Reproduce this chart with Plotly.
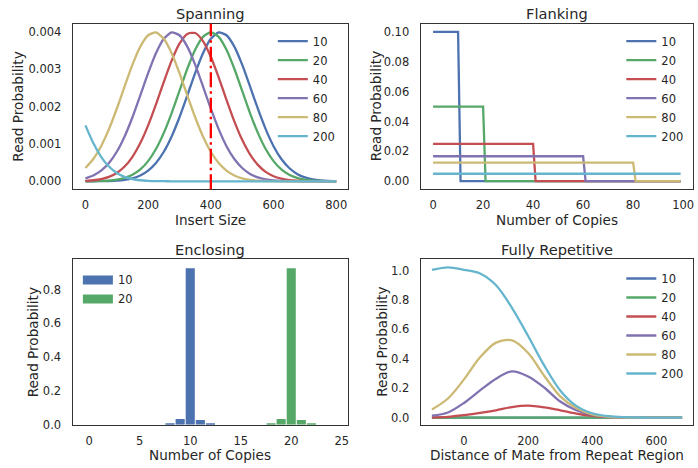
import plotly.graph_objects as go

# ---------------- data ----------------
copies = ["10", "20", "40", "60", "80", "200"]
colors = ["#4C72B0", "#55A868", "#C44E52", "#8172B2", "#CCB974", "#64B5CD"]

# Spanning: read probability vs insert size (every 25 bp)
span_x = list(range(0, 801, 25))
span_10 = [0.0000004, 0.0000011, 0.0000029, 0.0000074, 0.000017, 0.000038, 0.000079, 0.000154,
           0.000283, 0.000488, 0.00079, 0.0012, 0.001714, 0.0023, 0.002897, 0.00343, 0.003815,
           0.003985, 0.00391, 0.003606, 0.003123, 0.002541, 0.001942, 0.001395, 0.00094, 0.000596,
           0.000355, 0.000198, 0.000104, 0.000052, 0.000024, 0.00001, 0.0000042]
span_20 = [0.0000013, 0.0000035, 0.0000088, 0.00002, 0.000044, 0.000091, 0.000175, 0.000318,
           0.00054, 0.000863, 0.001296, 0.001827, 0.00242, 0.003012, 0.003521, 0.003867, 0.00399,
           0.003867, 0.003521, 0.003012, 0.00242, 0.001827, 0.001296, 0.000863, 0.00054, 0.000318,
           0.000175, 0.000091, 0.000044, 0.00002, 0.0000088, 0.0000035, 0.0000013]
span_40 = [0.000012, 0.000028, 0.00006, 0.000119, 0.000224, 0.000395, 0.000656, 0.001023,
           0.001497, 0.00206, 0.002661, 0.00323, 0.003683, 0.003945, 0.00397, 0.003753, 0.003333,
           0.00278, 0.002179, 0.001604, 0.001109, 0.000721, 0.00044, 0.000252, 0.000136, 0.000069,
           0.000033, 0.000014, 0.0000061, 0.0000024, 0.0000009, 0.0000003, 0.0000001]
span_60 = [0.000079, 0.000154, 0.000283, 0.000488, 0.00079, 0.0012, 0.001714, 0.0023,
           0.002897, 0.00343, 0.003815, 0.003985, 0.00391, 0.003606, 0.003123, 0.002541, 0.001942,
           0.001395, 0.00094, 0.000596, 0.000355, 0.000198, 0.000104, 0.000052, 0.000024, 0.00001,
           0.0000042, 0.0000016, 0.0000006, 0.0000002, 0.0, 0.0, 0.0]
span_80 = [0.000355, 0.000596, 0.00094, 0.001395, 0.001942, 0.002541, 0.003123, 0.003606,
           0.00391, 0.003985, 0.003815, 0.00343, 0.002897, 0.0023, 0.001714, 0.0012, 0.00079,
           0.000488, 0.000283, 0.000154, 0.000079, 0.000038, 0.000017, 0.0000074, 0.0000029,
           0.0000011, 0.0000004, 0.0, 0.0, 0.0, 0.0, 0.0, 0.0]
span_200 = [0.001497, 0.001023, 0.000656, 0.000395, 0.000224, 0.000119, 0.00006, 0.000028,
            0.000012, 0.0000051, 0.000002, 0.0, 0.0, 0.0, 0.0, 0.0, 0.0, 0.0, 0.0, 0.0, 0.0, 0.0,
            0.0, 0.0, 0.0, 0.0, 0.0, 0.0, 0.0, 0.0, 0.0, 0.0, 0.0]
span_cutoff = 400

# Flanking: step functions (level up to the last copy, then zero)
flank_last_copy = [10, 20, 40, 60, 80, 99]
flank_level = [0.1, 0.05, 0.025, 0.0167, 0.0125, 0.005]
flank_max_copy = 99

# Enclosing: bar chart
enc_x = list(range(0, 25))
enc_10 = [0, 0, 0, 0, 0, 0, 0, 0, 0.005, 0.034, 0.926, 0.029, 0.005, 0, 0, 0, 0, 0, 0, 0, 0, 0, 0, 0, 0]
enc_20 = [0, 0, 0, 0, 0, 0, 0, 0, 0, 0, 0, 0, 0, 0, 0, 0, 0, 0, 0.005, 0.034, 0.926, 0.029, 0.005, 0, 0]

# Fully repetitive
fr_x = [-100, -50, 0, 50, 100, 150, 200, 250, 300, 350, 400, 450, 500, 550, 600, 650, 680]
fr_10 = [0.0] * 17
fr_20 = [0.0] * 17
fr_40 = [0.0, 0.005, 0.017, 0.032, 0.05, 0.072, 0.081, 0.07, 0.05, 0.028, 0.012, 0.004, 0.001, 0, 0, 0, 0]
fr_60 = [0.013, 0.035, 0.10, 0.185, 0.265, 0.315, 0.28, 0.205, 0.11, 0.05, 0.018, 0.005, 0.001, 0, 0, 0, 0]
fr_80 = [0.055, 0.13, 0.26, 0.41, 0.51, 0.525, 0.44, 0.285, 0.145, 0.065, 0.022, 0.006, 0.001, 0, 0, 0, 0]
fr_200 = [1.005, 1.022, 1.005, 0.98, 0.90, 0.745, 0.555, 0.355, 0.185, 0.08, 0.03, 0.01, 0.003, 0.001, 0, 0, 0]

# ---------------- figure ----------------
W, H = 698, 468
FONT = "DejaVu Sans"
TXT = "#262626"
LW = 2.3

fig = go.Figure()

span_series = [span_10, span_20, span_40, span_60, span_80, span_200]
for name, ys, c in zip(copies, span_series, colors):
    fig.add_trace(go.Scatter(x=span_x, y=ys, mode="lines", name=name,
                             line=dict(color=c, width=LW, shape="spline", smoothing=0.6),
                             xaxis="x", yaxis="y", legend="legend"))

for name, last, lev, c in zip(copies, flank_last_copy, flank_level, colors):
    if last >= flank_max_copy:
        xs, ys = [0, flank_max_copy], [lev, lev]
    else:
        xs = [0, last, last + 1, flank_max_copy]
        ys = [lev, lev, 0, 0]
    fig.add_trace(go.Scatter(x=xs, y=ys, mode="lines", name=name,
                             line=dict(color=c, width=LW),
                             xaxis="x2", yaxis="y2", legend="legend2"))

for name, ys, c in zip(copies[:2], [enc_10, enc_20], colors[:2]):
    fig.add_trace(go.Bar(x=enc_x, y=ys, name=name, marker=dict(color=c, line=dict(width=0)),
                         width=0.9, showlegend=False, xaxis="x3", yaxis="y3"))
    fig.add_trace(go.Scatter(x=[None], y=[None], mode="lines", name=name,
                             line=dict(color=c, width=9),
                             xaxis="x3", yaxis="y3", legend="legend3"))

fr_series = [fr_10, fr_20, fr_40, fr_60, fr_80, fr_200]
for name, ys, c in zip(copies, fr_series, colors):
    fig.add_trace(go.Scatter(x=fr_x, y=ys, mode="lines", name=name,
                             line=dict(color=c, width=LW, shape="spline", smoothing=0.9),
                             xaxis="x4", yaxis="y4", legend="legend4"))

fig.add_shape(type="line", xref="x", yref="y domain", x0=span_cutoff, x1=span_cutoff, y0=0, y1=1,
              line=dict(color="#FF0000", width=2.3, dash="15px,4px,2.5px,4px"))

def xd(a, b):
    return [a / W, b / W]

def yd(top, bottom):
    return [1 - bottom / H, 1 - top / H]

axis_common = dict(showgrid=False, zeroline=False, showline=True, mirror=True,
                   linecolor="#333333", linewidth=1.3, ticks="",
                   tickfont=dict(family=FONT, size=11.5, color=TXT))

L1, R1, L2, R2 = 73, 348, 421.3, 694
T1, B1, T2, B2 = 24, 192, 263.3, 431.3
XSO = 5

fig.update_layout(
    xaxis=dict(domain=xd(L1, R1), anchor="y", range=[-40, 836], tickvals=[0, 200, 400, 600, 800],
               ticklabelstandoff=XSO, **axis_common),
    yaxis=dict(domain=yd(T1, B1), anchor="x", range=[-0.00021, 0.00422],
               tickvals=[0, 0.001, 0.002, 0.003, 0.004], tickformat=".3f",
               ticklabelstandoff=8, **axis_common),
    xaxis2=dict(domain=xd(L2, R2), anchor="y2", range=[-4.95, 103.95], tickvals=[0, 20, 40, 60, 80, 100],
                ticklabelstandoff=XSO, **axis_common),
    yaxis2=dict(domain=yd(T1, B1), anchor="x2", range=[-0.0053, 0.1055],
                tickvals=[0, 0.02, 0.04, 0.06, 0.08, 0.10], tickformat=".2f",
                ticklabelstandoff=8, **axis_common),
    xaxis3=dict(domain=xd(72.7, 348.3), anchor="y3", range=[-1.65, 25.6], tickvals=[0, 5, 10, 15, 20, 25],
                ticklabelstandoff=XSO, **axis_common),
    yaxis3=dict(domain=yd(T2, B2), anchor="x3", range=[0, 0.978],
                tickvals=[0, 0.2, 0.4, 0.6, 0.8], tickformat=".1f",
                ticklabelstandoff=8, **axis_common),
    xaxis4=dict(domain=xd(L2, R2), anchor="y4", range=[-135, 714], tickvals=[0, 200, 400, 600],
                ticklabelstandoff=XSO, **axis_common),
    yaxis4=dict(domain=yd(T2, B2), anchor="x4", range=[-0.049, 1.076],
                tickvals=[0, 0.2, 0.4, 0.6, 0.8, 1.0], tickformat=".1f",
                ticklabelstandoff=8, **axis_common),
    barmode="overlay",
    width=W, height=H,
    margin=dict(l=0, r=0, t=0, b=0),
    paper_bgcolor="white", plot_bgcolor="white",
    font=dict(family=FONT, color=TXT),
    showlegend=True,
)

leg_common = dict(bgcolor="rgba(0,0,0,0)", borderwidth=0, font=dict(family=FONT, size=11.5, color=TXT),
                  xanchor="left", yanchor="top", tracegroupgap=0, itemwidth=30)
fig.update_layout(
    legend=dict(x=(277.5 - 4.3) / W, y=1 - 27 / H, **leg_common),
    legend2=dict(x=(626.5 - 4.3) / W, y=1 - 27 / H, **leg_common),
    legend3=dict(x=(84 - 6) / W, y=1 - 269.5 / H, **leg_common),
    legend4=dict(x=(626.5 - 4.3) / W, y=1 - 268 / H, **leg_common),
)

def ann(text, x, y, size, angle=0):
    fig.add_annotation(text=text, x=x / W, y=1 - y / H, xref="paper", yref="paper",
                       showarrow=False, textangle=angle, xanchor="center", yanchor="middle",
                       font=dict(family=FONT, size=size, color=TXT))

# titles
ann("Spanning", (L1 + R1) / 2, 14, 14.6)
ann("Flanking", (L2 + R2) / 2, 14, 14.6)
ann("Enclosing", (72.7 + 348.3) / 2, 253, 14.6)
ann("Fully Repetitive", (L2 + R2) / 2, 253, 14.6)
# x labels
ann("Insert Size", (L1 + R1) / 2, 223.5, 13.6)
ann("Number of Copies", (L2 + R2) / 2, 223.5, 13.6)
ann("Number of Copies", (72.7 + 348.3) / 2, 462.3, 13.6)
ann("Distance of Mate from Repeat Region", (L2 + R2) / 2, 462.3, 13.6)
# y labels
ann("Read Probability", 18.3, (T1 + B1) / 2, 13.6, -90)
ann("Read Probability", 377.3, (T1 + B1) / 2, 13.6, -90)
ann("Read Probability", 33.3, (T2 + B2) / 2, 13.6, -90)
ann("Read Probability", 382.3, (T2 + B2) / 2, 13.6, -90)

fig.write_html("out.html", config={"displayModeBar": False},
               post_script="document.body.style.margin='0';")
